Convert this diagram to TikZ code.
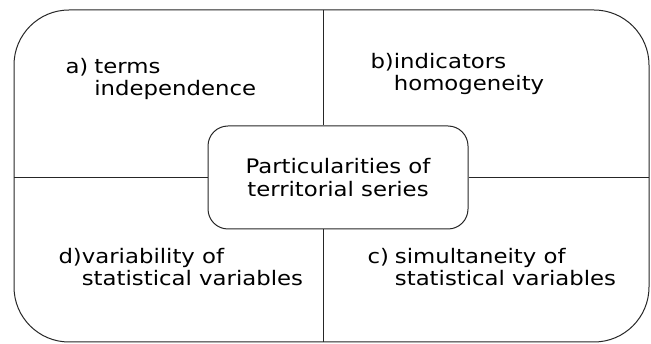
\documentclass[tikz,border=0pt]{standalone}
\usepackage{fontspec}
\setmainfont{DejaVu Sans}[FakeStretch=1.14]
\newcommand{\lbl}[2]{\begin{tabular}[t]{@{}l@{}l@{}}#1&#2\end{tabular}}

\begin{document}
\begin{tikzpicture}[x=1pt,y=-1pt,
    line width=1pt,
    txt/.style={font=\fontsize{20}{22}\selectfont, text=black, inner sep=0pt, anchor=base west},
    centrebox/.style={draw=black!85, rounded corners=20pt, minimum width=260pt, minimum height=103pt,
      align=center, font=\fontsize{20}{23}\selectfont, text=black}]
   \useasboundingbox (0,0) rectangle (651,344);
   \draw[black!85, rounded corners=55pt] (14,10) rectangle (649,342);
   \coordinate (top) at (323,10);
   \coordinate (bot) at (323,342);
   \coordinate (lft) at (14,178);
   \coordinate (rgt) at (649,178);
   \node[centrebox] (centre) at (338,177.5) {Particularities of\\territorial series};
   \draw[black!85] (top) -- (top |- centre.north);
   \draw[black!85] (centre.south -| bot) -- (bot);
   \draw[black!85] (lft) -- (centre.west |- lft);
   \draw[black!85] (centre.east |- rgt) -- (rgt);
   \node[txt] (termA) at (65,74) {\lbl{a)\kern6pt}{terms\\ & independence}};
   \node[txt] (termB) at (370,69) {\lbl{b)}{indicators\\ & homogeneity}};
   \node[txt] (termC) at (367,264) {\lbl{c)\kern6pt}{simultaneity of\\ & statistical variables}};
   \node[txt] (termD) at (58,264) {\lbl{d)}{variability of\\ & statistical variables}};
\end{tikzpicture}
\end{document}
